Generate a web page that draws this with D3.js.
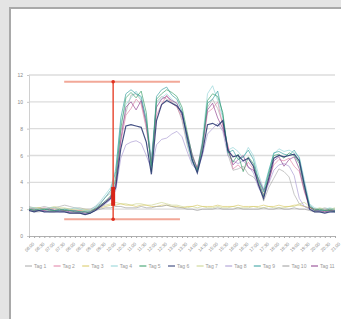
<!DOCTYPE html>
<html><head><meta charset="utf-8">
<script src="https://cdn.jsdelivr.net/npm/d3@7"></script>
<style>
html,body{margin:0;padding:0;background:#e4e4e4;}
svg{display:block;font-family:"Liberation Sans",Arial,sans-serif;}
</style></head>
<body>
<svg id="c" width="341" height="319"></svg>
<script>
const seriesNames = ["Tag 1","Tag 2","Tag 3","Tag 4","Tag 5","Tag 6","Tag 7","Tag 8","Tag 9","Tag 10","Tag 11"];
const seriesColors = ["#a8a8a8","#e07fa4","#d8c860","#8fd3d6","#2f9a62","#24336e","#c9d38a","#a596d0","#2f9c9c","#9a9a9a","#8a3a8a"];
const xLabels = ["06:00","06:30","07:00","07:30","08:00","08:30","09:00","09:30","10:00","10:30","11:00","11:30","12:00","12:30","13:00","13:30","14:00","14:30","15:00","15:30","16:00","16:30","17:00","17:30","18:00","18:30","19:00","19:30","20:00","20:30","21:00"];
const yTicks = [0,2,4,6,8,10,12];

const tag1 = [2.2,2.1,2.1,2.2,2.1,2.1,2.2,2.3,2.2,2.1,2.1,2.0,2.0,2.2,2.5,2.9,3.2,4.4,7.8,9.2,10.5,10.6,10.1,8.2,5.3,10.0,10.4,10.2,10.0,9.7,8.6,6.8,5.4,5.0,6.3,9.6,10.2,9.5,8.4,6.1,4.9,5.0,5.2,4.6,4.4,3.9,2.6,3.6,4.3,5.0,4.8,4.4,3.1,2.4,2.2,2.1,2.0,2.0,2.1,2.0,2.0];
const tag2 = [2.1,2.0,2.0,2.1,2.0,2.0,2.0,1.9,1.9,1.9,1.9,1.8,1.8,2.0,2.2,2.5,2.9,3.8,7.0,9.0,9.5,10.2,9.8,8.0,5.6,9.0,9.8,10.5,9.9,9.6,8.8,7.0,5.9,5.1,6.4,9.2,9.5,10.0,8.2,6.8,5.0,5.3,4.9,5.5,5.0,3.9,3.1,4.2,5.3,5.7,5.6,5.8,5.2,4.8,3.3,2.1,2.0,1.9,2.0,1.9,1.9];
const tag3 = [2.0,2.0,2.1,2.0,2.0,2.1,2.0,2.0,2.0,1.9,1.9,1.9,1.9,2.0,2.1,2.2,2.3,2.3,2.4,2.3,2.3,2.2,2.3,2.3,2.2,2.2,2.3,2.3,2.2,2.2,2.1,2.2,2.2,2.3,2.2,2.2,2.2,2.3,2.2,2.2,2.2,2.3,2.2,2.2,2.2,2.2,2.3,2.2,2.2,2.3,2.2,2.2,2.3,2.3,2.2,2.1,2.0,2.0,1.9,2.0,2.0];
const tag4 = [2.1,2.1,2.0,2.0,2.1,2.1,2.0,2.0,2.0,2.1,2.0,1.9,1.9,2.2,2.6,3.1,3.6,5.0,8.4,9.8,10.3,10.8,10.2,8.8,5.9,9.9,10.3,10.6,10.2,9.8,9.0,7.0,5.5,4.9,7.2,10.6,11.2,10.1,8.8,6.4,6.6,6.3,5.8,6.6,6.0,4.6,3.5,4.9,6.1,6.5,6.3,6.4,6.2,5.9,4.2,2.4,2.1,2.0,2.0,2.1,2.0];
const tag5 = [2.0,1.9,2.0,2.0,1.9,1.9,2.0,1.9,1.9,1.8,1.8,1.8,1.7,2.0,2.3,2.6,3.0,4.2,8.0,10.3,10.7,10.3,10.8,9.2,4.8,10.2,10.6,10.9,10.7,10.4,9.6,7.8,6.0,4.9,6.8,10.1,10.6,10.4,9.2,6.3,5.5,6.1,4.8,5.9,5.4,4.1,3.0,4.6,6.0,6.1,5.8,6.2,6.0,5.4,3.6,2.2,1.9,2.0,1.9,1.9,1.8];
const tag6 = [1.9,1.8,1.9,1.8,1.8,1.8,1.8,1.8,1.7,1.7,1.7,1.6,1.7,1.9,2.2,2.5,2.8,3.6,6.5,8.2,8.3,8.2,8.1,7.0,4.6,8.6,9.8,10.1,9.9,9.7,9.2,7.4,5.7,4.7,6.2,8.3,8.4,8.2,8.6,6.4,5.9,6.0,5.6,5.8,5.2,3.8,2.8,4.3,5.8,6.0,5.9,6.0,6.1,5.6,3.8,2.0,1.8,1.8,1.7,1.8,1.8];
const tag7 = [2.1,2.1,2.1,2.0,2.1,2.2,2.1,2.1,2.0,2.0,2.0,2.0,1.9,2.0,2.2,2.3,2.4,2.5,2.4,2.4,2.3,2.4,2.4,2.3,2.3,2.4,2.5,2.4,2.3,2.3,2.2,2.1,2.2,2.1,2.2,2.1,2.1,2.2,2.1,2.1,2.2,2.1,2.1,2.1,2.2,2.1,2.1,2.2,2.1,2.1,2.1,2.2,2.2,2.4,2.5,2.2,2.0,2.1,2.0,2.0,2.1];
const tag8 = [1.9,1.9,1.9,1.8,1.9,1.9,1.8,1.8,1.8,1.8,1.7,1.7,1.7,1.9,2.1,2.4,2.7,3.4,5.8,6.8,7.0,7.1,6.9,6.0,5.0,6.8,7.2,7.3,7.6,7.8,7.4,6.3,5.3,4.9,6.0,7.6,8.0,8.4,7.8,6.0,5.6,5.4,5.6,5.2,4.7,3.6,2.9,3.9,4.9,5.3,5.4,5.2,4.5,2.8,2.2,2.0,1.9,1.8,1.9,1.8,1.8];
const tag9 = [2.0,2.0,1.9,2.0,2.0,1.9,1.9,2.0,1.9,1.9,1.8,1.8,1.8,2.1,2.4,2.9,3.4,4.8,8.8,10.6,10.9,10.6,10.4,8.6,5.2,10.4,10.9,11.1,10.5,10.2,9.3,7.2,5.6,4.8,6.6,9.9,10.2,10.8,9.0,6.2,6.4,5.7,5.9,6.4,5.7,4.2,3.3,4.8,6.2,6.3,6.1,6.0,6.4,5.8,3.9,2.3,2.0,1.9,1.9,2.0,1.9];
const tag10 = [1.9,1.8,1.8,1.9,1.8,1.8,1.9,1.8,1.7,1.7,1.7,1.6,1.7,1.9,2.0,2.1,2.1,2.2,2.2,2.1,2.1,2.1,2.2,2.1,2.1,2.2,2.2,2.3,2.2,2.1,2.1,2.0,2.0,1.9,2.0,2.0,2.0,2.1,2.0,2.0,2.0,2.1,2.0,2.0,2.0,2.0,2.1,2.0,2.0,2.1,2.0,2.0,2.1,2.0,2.0,1.9,1.8,1.8,1.8,1.9,1.9];
const tag11 = [2.0,1.9,1.9,1.9,2.0,1.9,1.9,1.9,1.8,1.8,1.8,1.7,1.8,2.0,2.3,2.6,2.9,3.9,7.2,9.6,10.0,9.4,10.1,8.4,5.4,9.6,10.2,10.4,10.1,9.9,9.0,7.6,6.1,5.0,6.9,9.4,9.9,8.8,8.0,6.6,5.3,5.7,6.0,5.1,4.9,4.3,3.4,4.0,5.6,5.9,5.2,5.7,5.9,5.0,3.4,2.2,1.9,1.9,1.8,1.9,1.9];
const allSeries = [tag1,tag2,tag3,tag4,tag5,tag6,tag7,tag8,tag9,tag10,tag11];
const drawOrder = [0,6,2,9,7,1,3,10,8,4,5];

// annotation (data units: x index, y value)
const rangeTop = 11.5, rangeBottom = 1.25, rangeX = 16.5, rangeFrom = 6.9, rangeTo = 29.6;
const stepLow = 2.25, stepHigh = 3.65;

const svg = d3.select("#c");
svg.append("rect").attr("x",10).attr("y",8).attr("width",345).attr("height",330)
  .attr("fill","#fff").attr("stroke","#a9a9a9").attr("stroke-width",2);

const nPts = tag1.length;
const x = d3.scaleLinear().domain([0,nPts-1]).range([29,335]);
const y = d3.scaleLinear().domain([0,12]).range([236,75]);

const g = svg.append("g");
g.selectAll("line.grid").data(yTicks.filter(d=>d>0)).join("line")
  .attr("x1",29).attr("x2",335).attr("y1",d=>y(d)).attr("y2",d=>y(d))
  .attr("stroke","#dcdcdc").attr("stroke-width",1.4);

const ya = g.append("g").attr("transform","translate(29,0)")
  .call(d3.axisLeft(y).tickValues(yTicks).tickSize(2).tickPadding(4));
ya.select(".domain").attr("stroke","#d0d0d0");
ya.selectAll(".tick line").attr("stroke","#c8c8c8");
ya.selectAll("text").attr("font-size",5).attr("fill","#888");

const xa = g.append("g").attr("transform","translate(0,236)")
  .call(d3.axisBottom(x).tickValues(d3.range(0,nPts,1)).tickSize(2).tickFormat(""));
xa.select(".domain").attr("stroke","#b0b0b0");
xa.selectAll(".tick line").attr("stroke","#aaa");
const xl = g.append("g").attr("transform","translate(0,236)")
  .call(d3.axisBottom(x).tickValues(d3.range(0,nPts,2)).tickSize(0).tickFormat((d,i)=>xLabels[i]));
xl.select(".domain").remove();
xl.selectAll("text").attr("font-size",4.5).attr("fill","#8a8a8a")
  .attr("text-anchor","end").attr("dy",0).attr("dx",0)
  .attr("transform","translate(3,6) rotate(-45)");

const line = d3.line().x((d,i)=>x(i)).y(d=>y(d));
drawOrder.forEach(k=>{
  g.append("path").datum(allSeries[k]).attr("d",line).attr("fill","none")
    .attr("stroke",seriesColors[k]).attr("stroke-width",k===5?1.2:0.75)
    .attr("stroke-opacity",0.85);
});

g.append("line").attr("x1",x(rangeFrom)).attr("x2",x(rangeTo)).attr("y1",y(rangeTop)).attr("y2",y(rangeTop))
  .attr("stroke","#f2a898").attr("stroke-width",2);
g.append("line").attr("x1",x(rangeFrom)).attr("x2",x(rangeTo)).attr("y1",y(rangeBottom)).attr("y2",y(rangeBottom))
  .attr("stroke","#f2a898").attr("stroke-width",2);
g.append("line").attr("x1",x(rangeX)).attr("x2",x(rangeX)).attr("y1",y(rangeTop)).attr("y2",y(rangeBottom))
  .attr("stroke","#e8503a").attr("stroke-width",1.5);
g.append("line").attr("x1",x(rangeX)).attr("x2",x(rangeX)).attr("y1",y(stepHigh)).attr("y2",y(stepLow))
  .attr("stroke","#d82418").attr("stroke-width",4);
[rangeTop,rangeBottom].forEach(v=>{
  g.append("circle").attr("cx",x(rangeX)).attr("cy",y(v)).attr("r",1.8).attr("fill","#e03020");
});

const lg = svg.append("g").attr("transform","translate(25,266)");
seriesNames.forEach((n,i)=>{
  const e = lg.append("g").attr("transform",`translate(${i*28.6},0)`);
  e.append("line").attr("x1",0).attr("x2",7).attr("y1",0).attr("y2",0)
    .attr("stroke",seriesColors[i]).attr("stroke-width",1);
  e.append("text").attr("x",9).attr("y",1.7).attr("font-size",5).attr("fill","#999").text(n);
});
</script>
</body></html>
